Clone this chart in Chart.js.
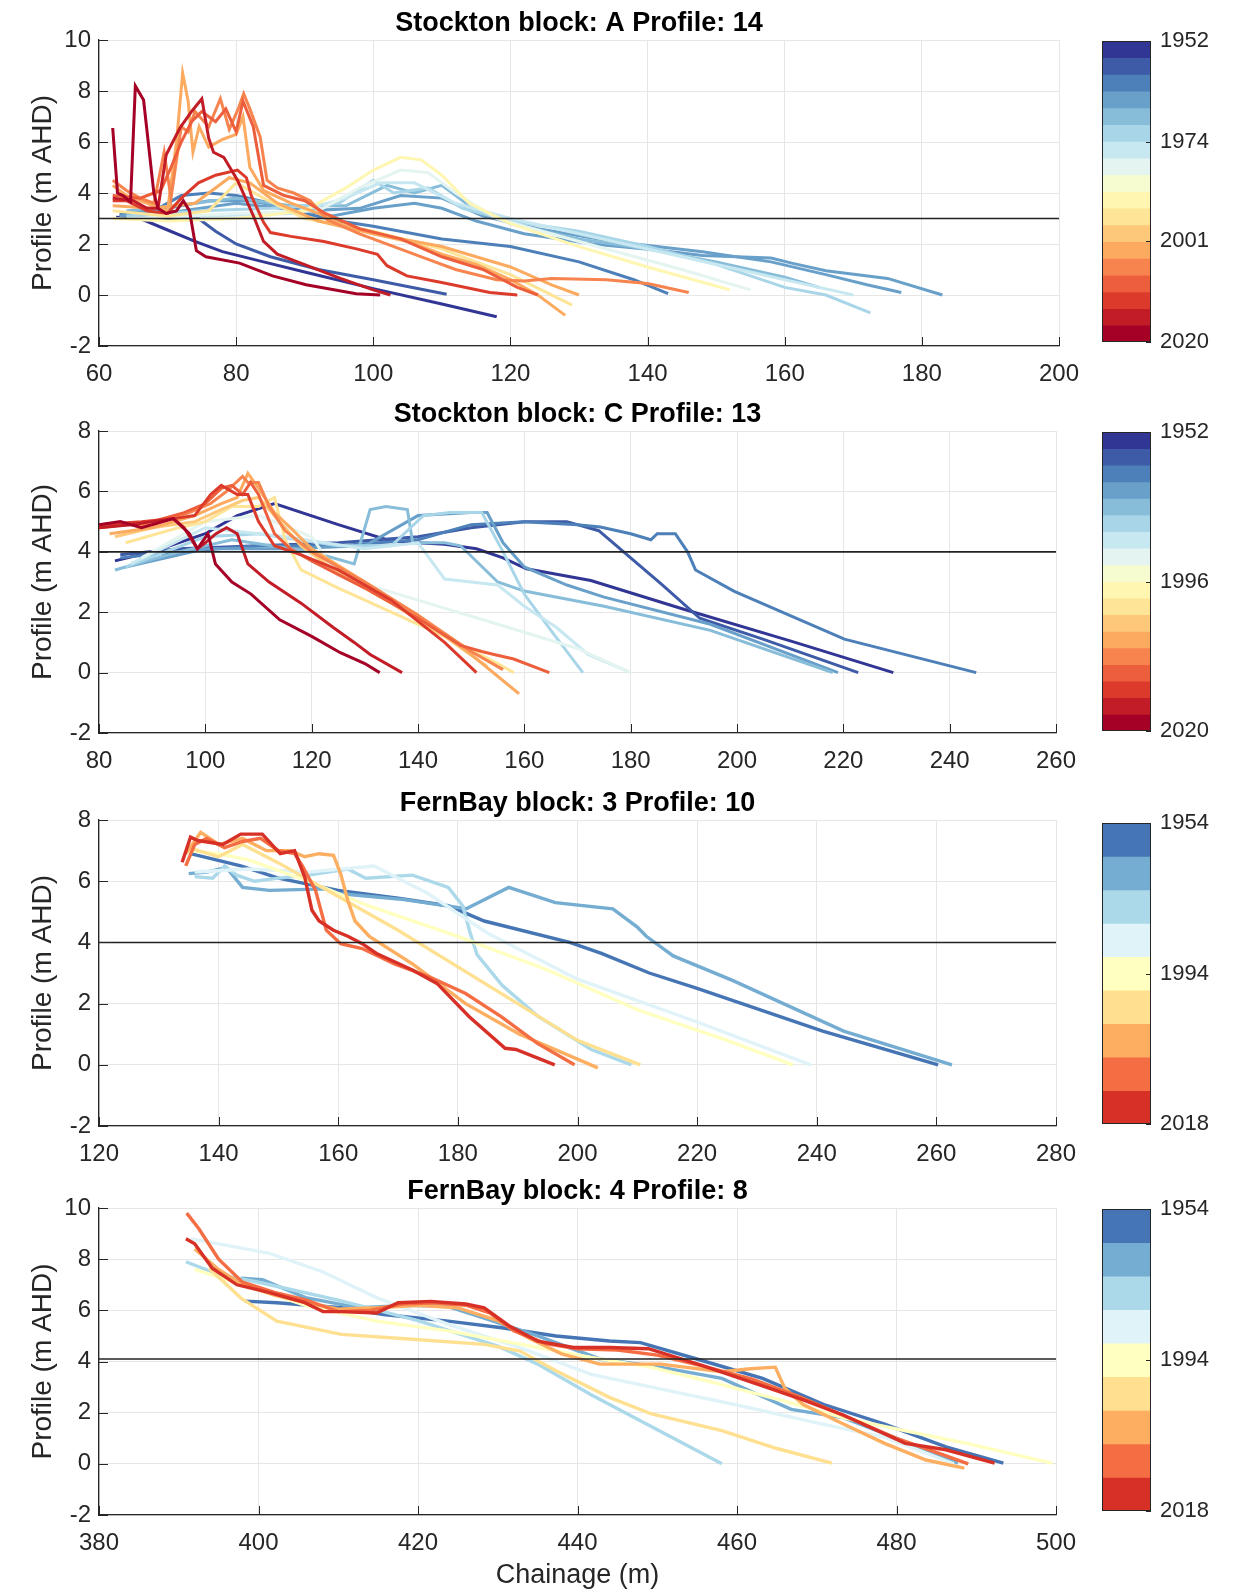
<!DOCTYPE html>
<html><head><meta charset="utf-8">
<script src="https://cdn.jsdelivr.net/npm/chart.js@4.4.1/dist/chart.umd.min.js"></script>
<style>
html,body{margin:0;padding:0;background:#fff;width:1239px;height:1592px;overflow:hidden;position:relative}
canvas{position:absolute}
</style></head><body>
<canvas id="m0"></canvas><canvas id="m1"></canvas><canvas id="m2"></canvas><canvas id="m3"></canvas>
<canvas id="b0"></canvas><canvas id="b1"></canvas><canvas id="b2"></canvas><canvas id="b3"></canvas>
<script>
// ---------------- DATA ----------------
const titles = ['Stockton block: A Profile: 14','Stockton block: C Profile: 13','FernBay block: 3 Profile: 10','FernBay block: 4 Profile: 8'];
const xRanges = [[60,200],[80,260],[120,280],[380,500]];
const yRanges = [[-2,10],[-2,8],[-2,8],[-2,10]];
const refLevels = [3.0, 4.0, 4.0, 4.1];
const yearRanges = [[1952,2020],[1952,2020],[1954,2018],[1954,2018]];
const cbLabels = [['1952','1974','2001','2020'],['1952','1996','2020'],['1954','1994','2018'],['1954','1994','2018']];
const cbLabelPos = [[0,0.335,0.665,1],[0,0.5,1],[0,0.5,1],[0,0.5,1]];
const cbBandCounts = [18,18,9,9];

const p1Years = [1952,1955,1958,1962,1965,1968,1971,1975,1980,1986,1992,1998,2001,2005,2009,2013,2017,2020];
const p1X = [
 [62.5,66,70,74,78,84,90,100,110,118],
 [63,70,74.5,77,80,85,92,100,110.7],
 [63,68,72,76,80,85,90,95,100,110,120,130,138,143],
 [64,70,76,82,88,94,100,106,110,115,122,132,142,148,158,161,166,175,183],
 [63,72,80,90,98,104,110,116,124,135,148,158,166,172,177],
 [64,74,80,88,96,102,106,110,114,120,130,140,150,160,165],
 [64,75,85,95,100,103,108,113,120,130,140,150,160,166,172.5],
 [64,75,88,96,101,106,112,120,130,145,155,165,170],
 [65,80,92,98,104,108,112,118,130,145,155],
 [62,70,80,90,96,100,104,107,110,114,120,130,140,148,152],
 [62,70,76,80,84,90,100,110,120,129],
 [62,68,74,79,82,86,92,100,110,120,126,130],
 [62,64,68,70,71.3,72.2,73,73.7,74.6,76,78,80,81,82,84,88,92,96,100,105,110,115,120,124,128],
 [62,64,66,68,69.5,70.5,72,73,74,76,77.7,79,80.3,81.1,82,83.5,84.5,86,88.4,90.8,93.3,98,103,108,112,118,122,126,134,140,146],
 [62,66,69,70.5,72,73.5,75,77,78.5,80,81,82.5,84,87,90,93,98,104,110,116,121,124],
 [62,64,67,70,72,74.5,77,80.2,81.5,82.2,84,85,88,92.8,97.7,100.6,102,104.9,109.8,117,121],
 [62,65,67,68.6,69.8,71.8,73.5,75,76,76.7,78.2,80.2,82.6,84,86,89.9,95.2,100,102.5],
 [62,62.7,63.5,64.6,65.3,66.5,68,68.6,69.8,71.3,72.3,73.2,74.2,75.6,80.5,85.3,90.2,97.5,101]
];
const p1Y = [
 [3.05,3.0,2.55,2.1,1.7,1.3,0.9,0.25,-0.35,-0.85],
 [3.1,3.0,3.0,2.5,2.0,1.5,1.0,0.6,0.03],
 [3.2,3.3,3.9,4.0,3.9,3.6,3.2,2.9,2.7,2.2,1.9,1.3,0.6,0.05],
 [3.2,3.4,3.7,3.7,3.4,3.1,3.4,3.6,3.4,2.9,2.4,2.0,1.75,1.55,1.45,1.25,0.95,0.65,0.0],
 [3.1,3.3,3.6,3.3,3.4,3.9,3.8,3.1,2.6,2.1,1.7,1.3,0.8,0.4,0.1],
 [3.3,3.6,3.8,3.5,3.5,4.3,4.0,4.3,3.5,2.8,2.2,1.8,1.3,0.7,0.3],
 [3.1,3.3,3.4,3.6,4.5,4.0,4.2,3.4,2.9,2.5,1.9,1.2,0.3,0.0,-0.7],
 [3.0,3.1,3.2,3.8,4.4,4.4,3.6,3.0,2.4,1.5,0.9,0.3,0.0],
 [3.0,3.2,3.3,4.2,4.9,4.8,4.0,3.0,2.1,1.0,0.2],
 [3.0,2.9,3.0,3.3,4.2,4.9,5.4,5.3,4.7,3.6,2.8,1.9,1.1,0.5,0.2],
 [3.3,3.1,3.3,4.4,3.8,3.0,2.5,1.8,0.8,-0.4],
 [3.5,3.4,3.6,4.6,4.4,3.6,2.9,2.4,1.9,1.1,0.4,0.0],
 [4.3,3.9,3.5,3.3,6.0,8.7,7.6,5.6,6.6,5.8,6.1,6.3,7.0,5.0,4.1,3.6,3.2,2.7,2.4,2.1,1.6,1.2,0.6,0.0,-0.8],
 [4.5,4.1,3.8,3.6,5.6,3.8,6.6,6.4,7.2,6.6,7.7,6.5,7.3,7.9,7.3,6.2,4.5,4.2,4.0,3.7,2.95,2.4,1.9,1.4,1.0,0.6,0.55,0.65,0.6,0.45,0.1],
 [3.9,3.8,4.1,5.0,6.0,6.8,7.2,6.8,7.3,6.4,7.6,6.6,4.3,3.9,3.7,3.2,2.6,2.2,1.5,1.0,0.3,0.0],
 [3.7,3.7,3.3,3.2,3.8,4.4,4.7,4.9,4.6,3.9,2.85,2.45,2.3,2.1,1.8,1.6,1.15,0.75,0.5,0.1,0.0],
 [3.8,3.7,3.4,3.4,5.5,6.55,7.2,7.7,6.15,5.6,5.4,4.5,3.05,2.1,1.6,1.2,0.65,0.2,0.0],
 [6.55,4.0,3.9,3.66,8.2,7.65,4.0,3.4,3.2,3.3,3.7,3.3,1.74,1.5,1.25,0.75,0.4,0.05,0.0]
];

const p2Years = [1952,1956,1960,1963,1967,1971,1975,1981,1990,1996,2001,2005,2009,2013,2017,2020];
const p2X = [
 [83,90,100,106,113,125,135,145,151,156,160.4,172.5,190,210,229.4],
 [84,95,110,125,140,150,160,168,174,180,186,193,205,222.8],
 [84,95,110,125,140,150,160,170,174.3,180,183.8,185,188.4,190.7,192.2,199.5,220.2,245],
 [85,100,115,130,140,150,153,156,160,168,175,195,219],
 [83,95,105,120,128,131,134,138,139,145,148,155,160,175,195,218],
 [85,100,110,125,135,141,146,152,156,160,165,171],
 [86,100,115,130,140,145,150,155,160,166,172,180],
 [88,100,110,120,125,140,155,170,180],
 [85,95,100,105,110,113,115,118,125,135,145,155,158],
 [83,90,98,103,107,110,114,118,125,135,145,153],
 [82,90,98,103,106,108,110,113,116,120,130,140,150,159],
 [81,90,97,101,104,107,108,110,112,115,120,130,140,150,156],
 [80,90,96,100,103,105,107,108.5,110,113,116,120,130,140,148,152,154.3,158,164.7],
 [80,88,94,98,101,103,106,108,110,113,118,125,135,145,151],
 [80,86,90,94,96,98.5,100,102,104,106,108,112,118,124,128,131,137],
 [80,84,88,92,94,97,98.5,100.5,101.9,105,108.6,114,120,125.4,130,132.8]
];
const p2Y = [
 [3.7,4.0,4.6,5.2,5.6,4.9,4.35,4.25,4.1,3.8,3.44,3.05,2.1,1.05,0.0],
 [3.9,4.1,4.2,4.3,4.5,4.8,5.0,5.0,4.7,3.8,2.9,1.8,1.1,0.0],
 [3.8,4.0,4.2,4.2,4.4,4.9,5.0,4.9,4.82,4.6,4.4,4.6,4.6,4.0,3.4,2.69,1.11,0.0],
 [3.5,4.1,4.1,4.2,5.2,5.3,5.3,4.3,3.5,2.9,2.5,1.6,0.0],
 [3.4,4.0,4.4,4.0,3.6,5.4,5.5,5.4,4.3,4.3,4.2,3.0,2.7,2.2,1.4,0.0],
 [3.5,4.5,4.6,4.2,4.2,5.2,5.3,5.3,4.0,2.6,1.4,0.0],
 [3.6,4.8,4.5,4.1,4.3,3.1,3.0,2.9,2.2,1.5,0.6,0.0],
 [3.8,5.0,5.2,4.5,3.2,2.4,1.6,0.8,0.0],
 [4.3,4.8,5.0,5.5,5.5,5.8,4.4,3.4,2.8,2.0,1.2,0.3,0.0],
 [4.5,4.8,5.0,5.4,5.7,5.8,5.0,4.2,3.3,2.3,1.2,0.2],
 [4.6,4.8,5.2,5.6,5.8,6.6,6.1,5.3,4.8,4.1,3.0,1.9,0.6,-0.7],
 [4.9,4.9,5.3,5.6,6.0,6.5,6.3,6.3,5.5,4.7,4.0,3.0,1.9,0.7,0.1],
 [4.8,5.0,5.3,5.6,6.1,6.2,5.9,6.3,5.9,4.6,4.1,3.7,2.8,1.8,0.9,0.7,0.6,0.45,0.0],
 [4.9,5.0,5.1,5.2,5.9,6.2,5.9,5.9,5.0,4.2,3.9,3.4,2.4,1.0,0.0],
 [4.8,4.9,5.0,5.1,4.8,4.1,4.3,4.6,4.8,4.6,3.6,3.0,2.3,1.5,1.0,0.6,0.0],
 [4.9,5.0,4.8,5.0,5.1,4.6,4.1,4.6,3.6,3.0,2.6,1.75,1.2,0.66,0.3,0.0]
];

const p3Years = [1954,1962,1970,1978,1986,1994,2002,2010,2018];
const p3X = [
 [135.3,143.7,150,160,170,178.4,184.4,198.7,204,212,220,241,260.3],
 [135,138,141.3,144,148.5,158,160,171,181.4,188.5,196.3,205.9,210,211.5,216,226,244.5,262.6],
 [136,139,141,143,146,150,155,161.6,164.6,172.4,178.4,180.8,182,183.2,187.4,193.3,202.3,209],
 [136,145,155,166,170,175,185,200,220,239],
 [135,140,145,155,165,180,195,210,225,236],
 [135,140,144,150,160,170,180,190,200,210.5],
 [134.5,137,140,144,148,152,154.4,156.8,159.2,160.4,161.6,162.8,165.2,172.4,181.3,190.3,203.4],
 [134.5,136,138,141,144,147,150,152.7,154,156.2,158,160.4,164,169.4,175.3,181.3,187.3,193.3,199.5],
 [133.9,135.3,136.5,140.7,143.7,147.3,150.3,152.7,154.4,155.6,156.8,159.2,161.6,164,166.4,172.4,176.5,181.9,187.9,189.7,196.2]
];
const p3Y = [
 [6.9,6.5,6.1,5.7,5.45,5.2,4.7,4.0,3.64,3.0,2.5,1.1,0.0],
 [6.25,6.3,6.45,5.8,5.7,5.75,5.6,5.4,5.1,5.8,5.3,5.1,4.5,4.2,3.56,2.75,1.1,0.0],
 [6.15,6.1,6.5,6.2,6.0,6.1,6.2,6.4,6.1,6.2,5.8,5.2,4.35,3.6,2.6,1.6,0.5,0.0],
 [6.3,6.4,6.3,6.5,6.1,5.6,4.3,2.8,1.4,0.0],
 [7.0,6.9,6.7,6.0,5.2,4.2,3.1,1.8,0.8,0.0],
 [7.1,6.8,7.2,6.6,5.5,4.4,3.2,2.0,0.8,0.0],
 [6.9,7.6,7.2,7.4,7.0,7.0,6.8,6.9,6.85,6.24,5.37,4.7,4.2,3.3,2.0,1.0,-0.1],
 [6.5,7.2,7.4,7.1,7.3,7.4,7.0,6.9,6.5,5.7,4.4,3.96,3.8,3.3,2.87,2.33,1.57,0.7,0.0],
 [6.62,7.44,7.33,7.2,7.54,7.54,6.9,7.0,6.13,5.05,4.7,4.4,4.2,3.96,3.64,3.1,2.66,1.57,0.54,0.5,0.0]
];

const p4Years = [1954,1962,1970,1978,1986,1994,2002,2010,2018];
const p4X = [
 [398.3,402.3,410.4,415.7,423.8,430.5,437.3,444,447.9,455.6,463.2,470.9,478.5,486.2,493.4],
 [397.8,400.5,405.9,412.6,419.3,423.8,428.3,435,442.8,450,458.1,466.8,473.4,480,487.7],
 [390.9,395,400,410,420,430,435,441.7,449.3,458.1],
 [391.5,396.9,401.4,408.1,414.8,423.8,432.8,441.7,449.3,460,470,478.5,487.2],
 [392,396,400,405.9,414.8,423.8,432.8,441.7,449.3,458.1,466,473.4,481,488.8,499.5],
 [393.8,397.8,402.3,410.4,419.3,428.3,432.8,437.3,444,449.3,458.1,465,471.9],
 [392,395,398,402,406,410,415,420,425,430,434,438,442.8,450.4,458.1,461.7,464.8,466,468.3,473.4,478.5,483.7,488.5],
 [391,392.5,395,398,402,406,410,414,418,422,426,429,432,436,440,445,450,456,462,468,474,480,485,489],
 [390.9,392,394.2,397.3,401.3,405.8,408.1,410.4,414.8,417.5,421.6,426,428.3,431.4,435,439.5,444,448.9,455.6,463.2,468.3,473.4,481.1,486.2,492.3]
];
const p4Y = [
 [6.36,6.3,6.1,5.84,5.58,5.32,5.0,4.8,4.74,4.04,3.34,2.32,1.55,0.66,0.03],
 [7.26,7.2,6.5,6.1,6.2,6.15,5.7,5.0,4.1,3.8,3.34,2.13,1.8,1.0,0.03],
 [7.9,7.4,7.1,6.4,5.6,4.6,3.9,2.7,1.45,0.0],
 [8.8,8.49,8.23,7.5,6.5,5.45,4.54,3.5,3.0,2.3,1.6,1.04,0.0],
 [7.6,7.2,6.8,6.2,5.58,5.2,4.68,4.16,3.77,3.1,2.45,1.8,1.3,0.8,0.03],
 [7.65,6.48,5.58,5.06,4.87,4.67,4.41,3.64,2.6,1.95,1.3,0.6,0.03],
 [8.4,7.6,7.0,6.6,6.3,6.05,6.1,6.2,6.1,5.6,4.9,4.3,3.9,3.9,3.6,3.72,3.78,2.95,2.32,1.55,0.8,0.15,-0.17],
 [9.8,9.2,8.0,7.1,6.7,6.4,5.95,6.0,6.25,6.3,6.2,5.9,5.2,4.7,4.5,4.45,4.25,3.8,3.3,2.6,1.8,1.0,0.45,0.0],
 [8.8,8.6,7.65,7.0,6.7,6.3,5.95,5.95,5.9,6.3,6.35,6.25,6.1,5.4,4.8,4.55,4.55,4.5,3.85,3.05,2.5,1.9,0.8,0.55,0.03]
];

const allYears = [p1Years,p2Years,p3Years,p4Years];
const allX = [p1X,p2X,p3X,p4X];
const allY = [p1Y,p2Y,p3Y,p4Y];

// ---------------- STYLE / LAYOUT ----------------
const FONT = "'Liberation Sans', Arial, Helvetica, sans-serif";
const TXT = '#262626';
const RDYLBU = ['#313695','#4575b4','#74add1','#abd9e9','#e0f3f8','#ffffbf','#fee090','#fdae61','#f46d43','#d73027','#a50026'];
const cmapRange = [[0,1],[0,1],[0.1,0.9],[0.1,0.9]];
const mainGeom = [ // canvas top, height, plot right, x-scale height
  {top:2,h:394,right:1059,hx:50},
  {top:393,h:390,right:1056,hx:50},
  {top:782,h:394,right:1056,hx:50},
  {top:1170,h:422,right:1056,hx:77}
];
const cbGeom = [{top:41,bottom:342},{top:432,bottom:731},{top:823,bottom:1124},{top:1209,bottom:1511}];
const MAIN_W = 1100, PLOT_LEFT = 99, CB_LEFT = 1100, CB_W = 139;

function hex(h){return [parseInt(h.slice(1,3),16),parseInt(h.slice(3,5),16),parseInt(h.slice(5,7),16)];}
function cmap(t){
  const p = t*(RDYLBU.length-1);
  const i = Math.min(Math.floor(p), RDYLBU.length-2), f = p-i;
  const a = hex(RDYLBU[i]), b = hex(RDYLBU[i+1]);
  return 'rgb('+a.map((v,k)=>Math.round(v+(b[k]-v)*f)).join(',')+')';
}
function bandColors(n, t0, t1){ return Array.from({length:n},(_,k)=>cmap(t0+(t1-t0)*k/(n-1))); }

const inwardTicks = {
  id:'inwardTicks',
  afterDraw(chart){
    const {ctx, chartArea:a} = chart; const sx = chart.scales.x, sy = chart.scales.y;
    ctx.save(); ctx.strokeStyle = TXT; ctx.lineWidth = 1; ctx.beginPath();
    sx.ticks.forEach(t=>{const p = Math.round(sx.getPixelForValue(t.value))+0.5; ctx.moveTo(p,a.bottom); ctx.lineTo(p,a.bottom-9);});
    sy.ticks.forEach(t=>{const p = Math.round(sy.getPixelForValue(t.value))+0.5; ctx.moveTo(a.left,p); ctx.lineTo(a.left+9,p);});
    ctx.stroke(); ctx.restore();
  }
};
const cbFrame = {
  id:'cbFrame',
  afterDraw(chart){
    const {ctx, chartArea:a} = chart; const sy = chart.scales.y;
    ctx.save(); ctx.strokeStyle = TXT; ctx.lineWidth = 1;
    ctx.strokeRect(Math.round(a.left)+0.5, Math.round(a.top)+0.5, Math.round(a.width)-1, Math.round(a.height)-1);
    ctx.beginPath();
    sy.ticks.forEach(t=>{const p = Math.round(sy.getPixelForValue(t.value))+0.5; ctx.moveTo(a.right,p); ctx.lineTo(a.right-5,p);});
    ctx.stroke(); ctx.restore();
  }
};

for (let i=0;i<4;i++){
  const g = mainGeom[i];
  const cv = document.getElementById('m'+i);
  cv.width = MAIN_W; cv.height = g.h; cv.style.left = '0px'; cv.style.top = g.top+'px';
  const [y0,y1] = yearRanges[i];
  const nb = cbBandCounts[i];
  const cols = bandColors(nb, cmapRange[i][0], cmapRange[i][1]);
  const yrs = allYears[i], xs = allX[i], ys = allY[i];
  const n = yrs.length;
  const datasets = yrs.map((yr,k)=>({
    data: xs[k].map((x,j)=>({x:x, y:ys[k][j]})),
    borderColor: cols[Math.max(0,Math.min(nb-1,Math.round((yr-y0)/(y1-y0)*(nb-1))))],
    borderWidth: i<2 ? 3 : 3.4, pointRadius:0, tension:0, fill:false, order: n-k
  }));
  datasets.push({data:[{x:xRanges[i][0],y:refLevels[i]},{x:xRanges[i][1],y:refLevels[i]}], borderColor:'#222', borderWidth:1.6, pointRadius:0, fill:false, order:-1});
  new Chart(cv.getContext('2d'), {
    type:'line',
    data:{datasets},
    options:{
      responsive:false, animation:false, devicePixelRatio:1,
      layout:{padding:{left:0, right:MAIN_W-g.right, top:0, bottom:0}},
      plugins:{
        legend:{display:false}, tooltip:{enabled:false},
        title:{display:true, text:titles[i], fullSize:false, color:'#000', font:{family:FONT,size:27,weight:'bold',lineHeight:1.15}, padding:{top:6,bottom:1}}
      },
      scales:{
        x:{type:'linear', min:xRanges[i][0], max:xRanges[i][1],
           ticks:{stepSize:20, color:TXT, font:{family:FONT,size:24}, padding:14, maxRotation:0, autoSkip:false},
           grid:{color:'#e6e6e6', lineWidth:1, drawTicks:false},
           border:{color:TXT, width:1.3},
           title:{display:i===3, text:'Chainage (m)', color:TXT, font:{family:FONT,size:27,lineHeight:1.2}, padding:{top:0,bottom:0}},
           afterFit:(s)=>{s.height = g.hx;}
        },
        y:{type:'linear', min:yRanges[i][0], max:yRanges[i][1],
           ticks:{stepSize:2, color:TXT, font:{family:FONT,size:24}, padding:8, autoSkip:false},
           grid:{color:'#e6e6e6', lineWidth:1, drawTicks:false},
           border:{color:TXT, width:1.3},
           title:{display:true, text:'Profile (m AHD)', color:TXT, font:{family:FONT,size:28,lineHeight:1.2}, padding:{top:26,bottom:0}},
           afterFit:(s)=>{s.width = PLOT_LEFT;}
        }
      }
    },
    plugins:[inwardTicks]
  });

  // colorbar
  const cg = cbGeom[i];
  const cb = document.getElementById('b'+i);
  cb.width = CB_W; cb.height = cg.bottom-cg.top+30; cb.style.left = CB_LEFT+'px'; cb.style.top = (cg.top-15)+'px';
  const labs = cbLabels[i], pos = cbLabelPos[i];
  new Chart(cb.getContext('2d'), {
    type:'bar',
    data:{labels:[''], datasets: cols.map(c=>({data:[1], backgroundColor:c, borderColor:c, borderWidth:0, barPercentage:1, categoryPercentage:1}))},
    options:{
      responsive:false, animation:false, devicePixelRatio:1,
      layout:{padding:{left:2, right:0, top:15, bottom:15}},
      plugins:{legend:{display:false}, tooltip:{enabled:false}},
      scales:{
        x:{display:false, stacked:true},
        y:{stacked:true, position:'right', reverse:true, min:0, max:nb,
           grid:{display:false, drawTicks:false}, border:{display:false},
           ticks:{autoSkip:false, padding:9, color:TXT, font:{family:FONT,size:22}, callback:(v,idx)=>labs[idx]},
           afterBuildTicks:(s)=>{ s.ticks = pos.map(p=>({value:p*nb})); },
           afterFit:(s)=>{ s.width = CB_W-2-49; s.paddingTop = 0; s.paddingBottom = 0; }
        }
      }
    },
    plugins:[cbFrame]
  });
}
</script>
</body></html>
